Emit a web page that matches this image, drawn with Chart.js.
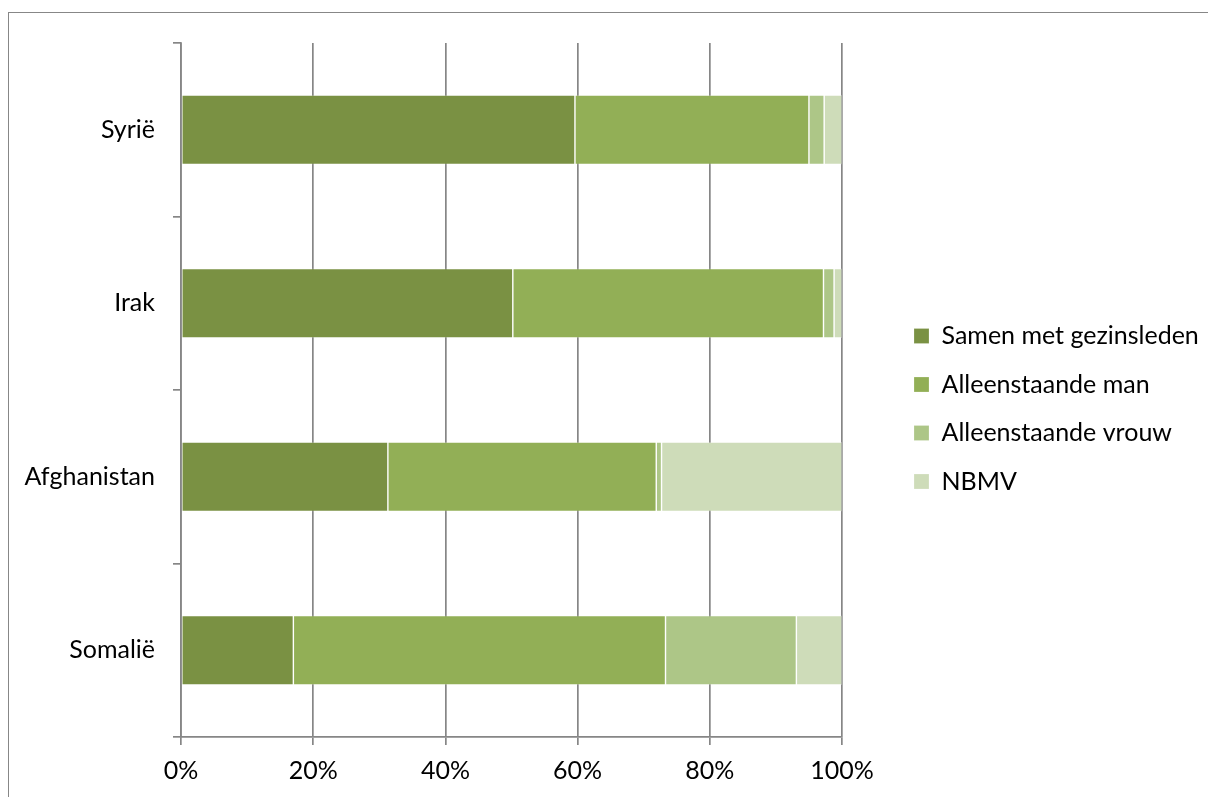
<!DOCTYPE html>
<html>
<head>
<meta charset="utf-8">
<script src="https://cdn.jsdelivr.net/npm/chart.js@4.4.1/dist/chart.umd.min.js"></script>
<style>
  html, body { margin: 0; padding: 0; background: #fff; overflow: hidden; }
  #frame { position: absolute; left: 8px; top: 12px; width: 1260px; height: 840px; border: 1.5px solid #878787; }
  #wrap { position: absolute; left: 0; top: 0; width: 1208px; height: 797px; }
</style>
</head>
<body>
<div id="frame"></div>
<div id="wrap"><canvas id="groepChart"></canvas></div>
<script>
// categories, top to bottom
const landen = ['Syrië', 'Irak', 'Afghanistan', 'Somalië'];

// share per category (percent)
const samenGezin = [59.6, 50.2, 31.3, 17.0];
const alleenMan = [35.4, 47.0, 40.6, 56.3];
const alleenVrouw = [2.3, 1.6, 0.8, 19.8];
const nbmv = [2.7, 1.2, 27.3, 6.9];

const xTicks = [0, 20, 40, 60, 80, 100];

// colours
const color1 = '#7A9143';
const color2 = '#92AF56';
const color3 = '#ADC687';
const color4 = '#CEDCB9';
const gridColor = '#868686';
const fontColor = '#000000';
const fontFamily = "Lato, 'Open Sans', sans-serif";

// legend sits in a fixed-width column right of the plot
const legendWidth = 317.5;
const legendShiftUp = 22.5;

const chartEl = document.getElementById('groepChart');

const makeSet = (label, data, color) => ({
    label: label,
    data: data,
    backgroundColor: color,
    borderColor: 'rgba(255,255,255,0.3)',
    borderWidth: 0.7,
    borderSkipped: false,
    barPercentage: 0.4,
    categoryPercentage: 1.0
});

// keep the legend column at a fixed width (the layout caps it otherwise)
const legendFitPlugin = {
    id: 'legendFit',
    beforeLayout(chart) {
        const legend = chart.legend;
        if (!legend || legend._fitPatched) return;
        const origFit = legend.fit;
        legend.fit = function () {
            origFit.call(this);
            this.width = legendWidth;
            if (this.columnSizes && this.columnSizes[0]) {
                this.columnSizes[0].height += legendShiftUp;
            }
        };
        legend._fitPatched = true;
    }
};

new Chart(chartEl, {
    type: 'bar',
    data: {
        labels: landen,
        datasets: [
            makeSet('Samen met gezinsleden', samenGezin, color1),
            makeSet('Alleenstaande man', alleenMan, color2),
            makeSet('Alleenstaande vrouw', alleenVrouw, color3),
            makeSet('NBMV', nbmv, color4)
        ]
    },
    plugins: [legendFitPlugin],
    options: {
        indexAxis: 'y',
        responsive: true,
        maintainAspectRatio: false,
        animation: false,
        layout: {
            padding: { top: 43, bottom: 0, left: 0, right: 0 }
        },
        plugins: {
            tooltip: { enabled: false },
            legend: {
                display: true,
                position: 'right',
                labels: {
                    color: fontColor,
                    boxWidth: 15,
                    boxHeight: 15,
                    padding: 23.5,
                    font: { family: fontFamily, size: 25 }
                }
            }
        },
        scales: {
            x: {
                stacked: true,
                min: 0,
                max: 100,
                afterBuildTicks: (s) => { s.ticks = xTicks.map(v => ({ value: v })); },
                afterFit: (s) => { s.height = 60; },
                grid: {
                    color: gridColor,
                    lineWidth: 1.7,
                    tickLength: 8,
                    drawTicks: true
                },
                border: { display: true, color: gridColor, width: 1.7 },
                ticks: {
                    color: fontColor,
                    padding: 11,
                    font: { family: fontFamily, size: 25 },
                    callback: (v) => v + '%'
                }
            },
            y: {
                stacked: true,
                afterFit: (s) => { s.width = 181; },
                grid: {
                    offset: true,
                    drawOnChartArea: false,
                    drawTicks: true,
                    tickLength: 8,
                    color: gridColor,
                    lineWidth: 1.7
                },
                border: { display: true, color: gridColor, width: 1.7 },
                ticks: {
                    color: fontColor,
                    padding: 18,
                    font: { family: fontFamily, size: 25 }
                }
            },
            spacer: {
                type: 'linear',
                position: 'right',
                display: true,
                grid: { display: false },
                border: { display: false },
                ticks: { display: false },
                afterFit: (s) => { s.width = 48.5; }
            }
        }
    }
});
</script>
</body>
</html>
